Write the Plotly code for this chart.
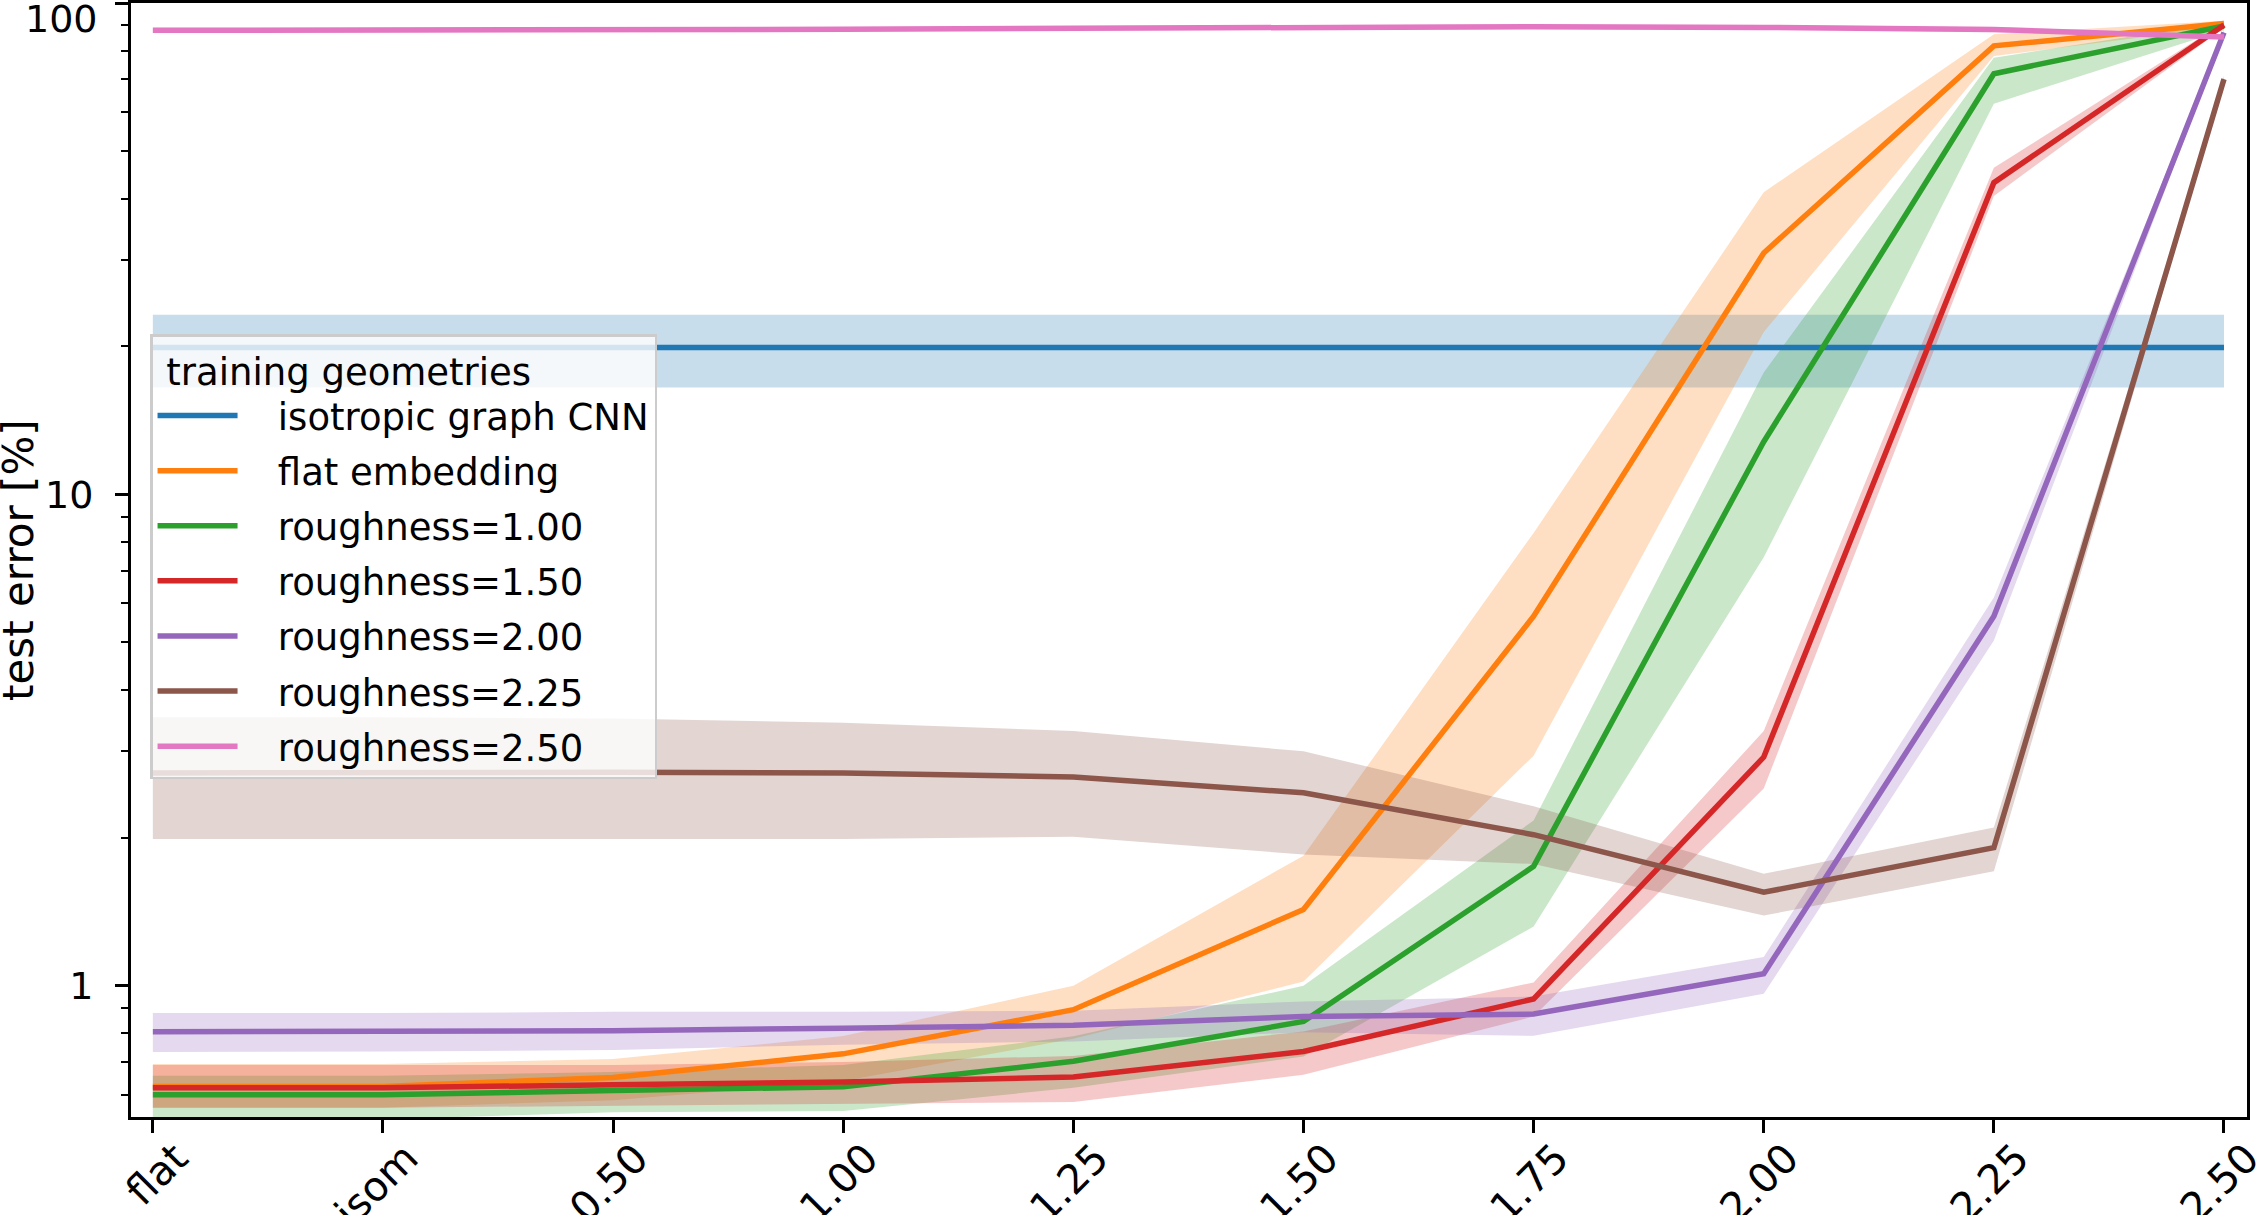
import plotly.graph_objects as go

categories = ["flat", "isom", "0.50", "1.00", "1.25", "1.50", "1.75", "2.00", "2.25", "2.50"]

iso_cnn_mean = [19.9, 19.9, 19.9, 19.9, 19.9, 19.9, 19.9, 19.9, 19.9, 19.9]
iso_cnn_lo = [16.5, 16.5, 16.5, 16.5, 16.5, 16.5, 16.5, 16.5, 16.5, 16.5]
iso_cnn_hi = [23.2, 23.2, 23.2, 23.2, 23.2, 23.2, 23.2, 23.2, 23.2, 23.2]

flat_emb_mean = [0.624, 0.624, 0.651, 0.727, 0.894, 1.43, 5.65, 31.0, 81.8, 90.8]
flat_emb_lo = [0.565, 0.565, 0.585, 0.64, 0.78, 1.02, 2.94, 21.4, 78.0, 89.5]
flat_emb_hi = [0.693, 0.693, 0.71, 0.79, 1.0, 1.84, 8.35, 41.2, 86.4, 92.0]

rough100_mean = [0.600, 0.600, 0.612, 0.623, 0.702, 0.846, 1.75, 12.8, 71.8, 89.8]
rough100_lo = [0.535, 0.535, 0.553, 0.556, 0.62, 0.718, 1.32, 7.45, 62.4, 88.0]
rough100_hi = [0.656, 0.656, 0.668, 0.69, 0.789, 1.0, 2.17, 17.7, 77.4, 91.5]

rough150_mean = [0.620, 0.620, 0.629, 0.637, 0.652, 0.735, 0.94, 2.92, 43.1, 90.2]
rough150_lo = [0.565, 0.565, 0.57, 0.575, 0.58, 0.659, 0.866, 2.52, 40.5, 89.0]
rough150_hi = [0.69, 0.69, 0.69, 0.70, 0.72, 0.807, 1.016, 3.30, 46.2, 91.3]

rough200_mean = [0.806, 0.806, 0.81, 0.82, 0.831, 0.866, 0.876, 1.058, 5.65, 87.1]
rough200_lo = [0.733, 0.735, 0.74, 0.759, 0.77, 0.804, 0.791, 0.963, 5.04, 86.0]
rough200_hi = [0.880, 0.880, 0.885, 0.885, 0.89, 0.929, 0.951, 1.144, 6.17, 88.2]

rough225_mean = [2.71, 2.72, 2.72, 2.71, 2.66, 2.47, 2.03, 1.55, 1.91, 70.0]
rough225_lo = [1.99, 1.99, 1.99, 1.99, 2.01, 1.85, 1.77, 1.39, 1.71, 69.0]
rough225_hi = [3.52, 3.52, 3.50, 3.43, 3.30, 3.0, 2.32, 1.69, 2.10, 71.0]

rough250_mean = [88.0, 88.0, 88.2, 88.4, 88.8, 89.2, 89.5, 89.2, 88.3, 85.3]
rough250_lo = [87.0, 87.0, 87.2, 87.4, 87.8, 88.2, 88.5, 88.2, 87.2, 84.3]
rough250_hi = [89.0, 89.0, 89.2, 89.4, 89.8, 90.2, 90.5, 90.2, 89.4, 86.3]

series_names = ["isotropic graph CNN", "flat embedding", "roughness=1.00", "roughness=1.50",
                "roughness=2.00", "roughness=2.25", "roughness=2.50"]
series_mean = [iso_cnn_mean, flat_emb_mean, rough100_mean, rough150_mean,
               rough200_mean, rough225_mean, rough250_mean]
series_lo = [iso_cnn_lo, flat_emb_lo, rough100_lo, rough150_lo, rough200_lo, rough225_lo, rough250_lo]
series_hi = [iso_cnn_hi, flat_emb_hi, rough100_hi, rough150_hi, rough200_hi, rough225_hi, rough250_hi]
colors = ["#1f77b4", "#ff7f0e", "#2ca02c", "#d62728", "#9467bd", "#8c564b", "#e377c2"]

y_tick_vals = [1, 10, 100]
y_tick_text = ["1", "10", ""]

FONT = "DejaVu Sans"
FS_LEG = 37
FS_TICK = 38
FS_XTICK = 40.5
FS_TITLE = 42
PAD_ITEM = "\u00a0\u00a0\u00a0"
PAD_TITLE = "\u00a0"


def rgba(hexc, a):
    h = hexc.lstrip("#")
    return "rgba(%d,%d,%d,%.3f)" % (int(h[0:2], 16), int(h[2:4], 16), int(h[4:6], 16), a)


fig = go.Figure()

# bands first (below all lines)
for name, lo, hi, c in zip(series_names, series_lo, series_hi, colors):
    fig.add_trace(go.Scatter(
        x=categories + categories[::-1], y=hi + lo[::-1],
        fill="toself", fillcolor=rgba(c, 0.25), line=dict(width=0),
        mode="lines", showlegend=False, hoverinfo="skip", legendgroup=name))

for name, m, c in zip(series_names, series_mean, colors):
    fig.add_trace(go.Scatter(
        x=categories, y=m, mode="lines", name=PAD_ITEM + name,
        line=dict(color=c, width=5.5), legendgroup=name))

minor_vals = []
for dec in [0.1, 1, 10]:
    for k in range(2, 10):
        minor_vals.append(k * dec)

fig.update_layout(
    width=2257, height=1215,
    margin=dict(l=131, r=10, t=3, b=98),
    paper_bgcolor="white", plot_bgcolor="white",
    font=dict(family=FONT, size=FS_LEG, color="black"),
    showlegend=True,
    legend=dict(
        x=0.009, y=0.7025, xanchor="left", yanchor="top",
        bgcolor="rgba(255,255,255,0.8)", bordercolor="#cccccc", borderwidth=2.5,
        font=dict(family=FONT, size=FS_LEG, color="black"),
        title=dict(text=PAD_TITLE + "training geometries", font=dict(family=FONT, size=FS_LEG, color="black")),
        itemwidth=80, tracegroupgap=4,
    ),
    xaxis=dict(
        type="category", categoryorder="array", categoryarray=categories,
        range=[-0.095, 9.1], automargin=False,
        showline=True, linecolor="black", linewidth=3, mirror=True,
        ticks="outside", ticklen=13, tickwidth=3, tickcolor="black",
        tickangle=-45, ticklabelshift=23, ticklabelstandoff=-15,
        tickfont=dict(family=FONT, size=FS_XTICK, color="black"),
        showgrid=False, zeroline=False,
    ),
    yaxis=dict(
        type="log", range=[-0.267, 2.0], automargin=False,
        showline=True, linecolor="black", linewidth=3, mirror=True,
        ticks="outside", ticklen=13, tickwidth=3, tickcolor="black",
        tickvals=y_tick_vals, ticktext=y_tick_text,
        ticklabelstandoff=14,
        tickfont=dict(family=FONT, size=FS_TICK, color="black"),
        minor=dict(tickvals=minor_vals, ticks="outside", ticklen=7.5, tickwidth=2.2,
                   tickcolor="black", showgrid=False),
        showgrid=False, zeroline=False,
    ),
)

# "100" tick label (sits slightly below its tick in the reference)
fig.add_annotation(
    text="100", xref="paper", yref="y", x=0, y=2, xanchor="right", yanchor="middle",
    xshift=-31, yshift=-16, showarrow=False, font=dict(family=FONT, size=FS_TICK, color="black"))

# y-axis title
fig.add_annotation(
    text="test error [%]", xref="paper", yref="paper", x=0, y=0.5, xanchor="center", yanchor="middle",
    xshift=-113, textangle=-90, showarrow=False, font=dict(family=FONT, size=FS_TITLE, color="black"))

fig.write_html("out.html", config={"displayModeBar": False},
               post_script="document.body.style.margin='0';document.body.style.overflow='hidden';")
